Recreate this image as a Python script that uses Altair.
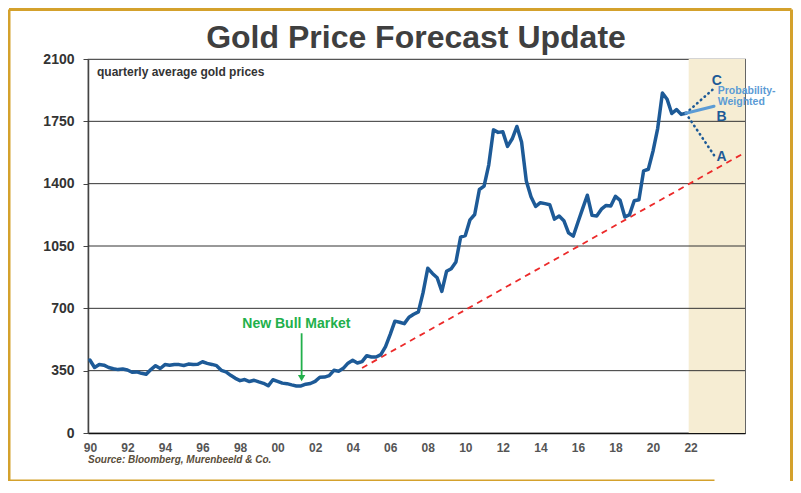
import altair as alt
import pandas as pd

FONT = "Liberation Sans"

# ---------------- data ----------------
start_year = 1990
gold_prices = [
    410, 368, 385, 381,   # 1990
    368, 361, 356, 359,   # 1991
    354, 341, 343, 335,   # 1992
    330, 356, 378, 362,   # 1993
    384, 381, 385, 384,   # 1994
    379, 387, 384, 386,   # 1995
    400, 391, 385, 378,   # 1996
    352, 343, 324, 307,   # 1997
    294, 300, 289, 296,   # 1998
    287, 279, 265, 299,   # 1999
    290, 280, 277, 270,   # 2000
    264, 264, 274, 278,   # 2001
    290, 313, 314, 322,   # 2002
    352, 347, 363, 392,   # 2003
    408, 393, 401, 434,   # 2004
    427, 427, 440, 485,   # 2005
    554, 628, 622, 614,   # 2006
    650, 667, 680, 788,   # 2007
    925, 896, 872, 795,   # 2008
    908, 922, 960, 1100,  # 2009
    1109, 1197, 1227, 1367,  # 2010
    1386, 1506, 1702, 1688,  # 2011
    1691, 1609, 1652, 1721,  # 2012
    1632, 1415, 1326, 1272,  # 2013
    1293, 1288, 1282, 1201,  # 2014
    1218, 1192, 1124, 1105,  # 2015
    1183, 1260, 1335, 1222,  # 2016
    1219, 1257, 1278, 1275,  # 2017
    1329, 1306, 1213, 1226,  # 2018
    1304, 1310, 1472, 1481,  # 2019
    1583, 1711, 1909, 1874,  # 2020
    1794, 1816, 1789, 1795,  # 2021
]

ytick_values = [0, 350, 700, 1050, 1400, 1750, 2100]
grid_values = [350, 700, 1050, 1400, 1750]
xtick_years = list(range(1990, 2023, 2))
x_domain = [1989.9, 2024.9]

forecast_zone = [2021.9, 2024.9]
forecast_years = [2021.75, 2023.25]
forecast_c = [1795, 1935]
forecast_b = [1795, 1835]
forecast_a = [1795, 1560]

trend_years = [2004.5, 2024.9]
trend_values = [365, 1575]

letter_labels = ["C", "B", "A"]
letter_x = [2023.4, 2023.65, 2023.65]
letter_y = [1978, 1775, 1548]

pw_labels = ["Probability-", "Weighted"]
pw_x = [2023.45, 2023.45]
pw_y = [1918, 1858]

bull_label = "New Bull Market"
bull_label_x = 2001.0
bull_label_y = 590
bull_arrow_x = 2001.28
bull_arrow_from = 560
bull_arrow_to = 318
bull_arrow_tip = 308

# ---------------- frames ----------------
gold_df = pd.DataFrame({
    "year": [start_year + i / 4 for i in range(len(gold_prices))],
    "price": gold_prices,
})

xs = alt.Scale(domain=x_domain, nice=False, zero=False)
ys = alt.Scale(domain=[0, 2100], nice=False)

one = pd.DataFrame({"k": [0]})

DARK_BLUE = "#1d5a97"
LIGHT_BLUE = "#5b9bd5"
GREEN = "#22b04b"
RED = "#ec2a2a"
GOLD = "#d4a12c"

shade = alt.Chart(pd.DataFrame({"x0": [forecast_zone[0]], "x1": [forecast_zone[1]]})).mark_rect(
    color="#f6edd3"
).encode(
    x=alt.X("x0:Q", scale=xs),
    x2="x1:Q",
    y=alt.value(0),
    y2=alt.value(374),
)

grid = alt.Chart(pd.DataFrame({"v": grid_values})).mark_rule(color="#333333", strokeWidth=1).encode(
    y=alt.Y("v:Q", scale=ys)
)

trend = alt.Chart(pd.DataFrame({"year": trend_years, "v": trend_values})).mark_line(
    color=RED, strokeWidth=1.8, strokeDash=[6, 5]
).encode(x=alt.X("year:Q", scale=xs), y=alt.Y("v:Q", scale=ys))

gold_line = alt.Chart(gold_df).mark_line(
    color=DARK_BLUE, strokeWidth=3.5, strokeJoin="round", strokeCap="round"
).encode(
    x=alt.X(
        "year:Q", scale=xs,
        axis=alt.Axis(
            values=xtick_years, title=None, ticks=False, grid=False,
            labelExpr="pad(toString(datum.value % 100), 2, '0', 'left')",
            labelFont=FONT, labelFontSize=12, labelFontWeight="bold", labelColor="#555555",
            labelPadding=9, domainColor="#111111", domainWidth=1.5, labelFlush=False,
        ),
    ),
    y=alt.Y(
        "price:Q", scale=ys,
        axis=alt.Axis(
            values=ytick_values, title=None, grid=False, format="d",
            labelFont=FONT, labelFontSize=14, labelFontWeight="bold", labelColor="#333333",
            labelPadding=9, tickSize=5, tickColor="#444444", domainColor="#444444",
            domainWidth=1.5,
        ),
    ),
)

fc_df = pd.DataFrame({"year": forecast_years, "c": forecast_c, "b": forecast_b, "a": forecast_a})

fc_c = alt.Chart(fc_df).mark_line(
    color=DARK_BLUE, strokeWidth=2.6, strokeDash=[0.5, 4.5], strokeCap="round"
).encode(x=alt.X("year:Q", scale=xs), y=alt.Y("c:Q", scale=ys))
fc_a = alt.Chart(fc_df).mark_line(
    color=DARK_BLUE, strokeWidth=2.6, strokeDash=[0.5, 4.5], strokeCap="round"
).encode(x=alt.X("year:Q", scale=xs), y=alt.Y("a:Q", scale=ys))
fc_b = alt.Chart(fc_df).mark_line(
    color=LIGHT_BLUE, strokeWidth=3, strokeCap="round"
).encode(x=alt.X("year:Q", scale=xs), y=alt.Y("b:Q", scale=ys))

letters = alt.Chart(pd.DataFrame({"t": letter_labels, "x": letter_x, "y": letter_y})).mark_text(
    font=FONT, fontSize=14, fontWeight="bold", color=DARK_BLUE, align="center", baseline="middle"
).encode(x=alt.X("x:Q", scale=xs), y=alt.Y("y:Q", scale=ys), text="t:N")

pw = alt.Chart(pd.DataFrame({"t": pw_labels, "x": pw_x, "y": pw_y})).mark_text(
    font=FONT, fontSize=10.5, fontWeight="bold", color=LIGHT_BLUE, align="left", baseline="middle"
).encode(x=alt.X("x:Q", scale=xs), y=alt.Y("y:Q", scale=ys), text="t:N")

bull_text = alt.Chart(pd.DataFrame({"t": [bull_label], "x": [bull_label_x], "y": [bull_label_y]})).mark_text(
    font=FONT, fontSize=14, fontWeight="bold", color=GREEN, align="center", baseline="alphabetic"
).encode(x=alt.X("x:Q", scale=xs), y=alt.Y("y:Q", scale=ys), text="t:N")

bull_rule = alt.Chart(pd.DataFrame({"x": [bull_arrow_x], "y0": [bull_arrow_from], "y1": [bull_arrow_to]})).mark_rule(
    color=GREEN, strokeWidth=1.8
).encode(x=alt.X("x:Q", scale=xs), y=alt.Y("y0:Q", scale=ys), y2="y1:Q")

bull_head = alt.Chart(pd.DataFrame({"x": [bull_arrow_x], "y": [bull_arrow_tip]})).mark_point(
    shape="triangle-down", filled=True, color=GREEN, size=55, opacity=1
).encode(x=alt.X("x:Q", scale=xs), y=alt.Y("y:Q", scale=ys))

title = alt.Chart(one).mark_text(
    text="Gold Price Forecast Update", font=FONT, fontSize=32, fontWeight="bold",
    color="#3f3f3f", align="center", baseline="alphabetic"
).encode(x=alt.value(328), y=alt.value(-11))

subtitle = alt.Chart(one).mark_text(
    text="quarterly average gold prices", font=FONT, fontSize=12, fontWeight="bold",
    color="#333333", align="left", baseline="alphabetic"
).encode(x=alt.value(9), y=alt.value(17))

source = alt.Chart(one).mark_text(
    text="Source: Bloomberg, Murenbeeld & Co.", font=FONT, fontSize=10, fontWeight="bold",
    fontStyle="italic", color="#5a4e3a", align="left", baseline="alphabetic"
).encode(x=alt.value(0), y=alt.value(404))

frame_top = alt.Chart(one).mark_rule(color=GOLD, strokeWidth=3).encode(
    x=alt.value(-79), x2=alt.value(703.5), y=alt.value(-49.5))
frame_left = alt.Chart(one).mark_rule(color=GOLD, strokeWidth=3).encode(
    x=alt.value(-79), y=alt.value(-49.5), y2=alt.value(422))
frame_right = alt.Chart(one).mark_rule(color=GOLD, strokeWidth=3).encode(
    x=alt.value(703.5), y=alt.value(-49.5), y2=alt.value(424))
frame_bottom = alt.Chart(one).mark_rule(color=GOLD, strokeWidth=3).encode(
    x=alt.value(-90), x2=alt.value(626.5), y=alt.value(422))
frame_bottom_v = alt.Chart(one).mark_rule(color=GOLD, strokeWidth=3).encode(
    x=alt.value(626.5), y=alt.value(422), y2=alt.value(430))

chart = alt.layer(
    shade, grid, trend, gold_line, fc_c, fc_a, fc_b, letters, pw,
    bull_text, bull_rule, bull_head, title, subtitle, source,
    frame_top, frame_left, frame_right, frame_bottom, frame_bottom_v,
).properties(
    width=657, height=374,
    autosize=alt.AutoSizeParams(type="none"),
    padding={"left": 80, "top": 51, "right": 48, "bottom": 48},
    background="white",
).configure_view(stroke="#555555", strokeWidth=1.2)

chart.save("out.html", embed_options={"renderer": "svg", "actions": False})
